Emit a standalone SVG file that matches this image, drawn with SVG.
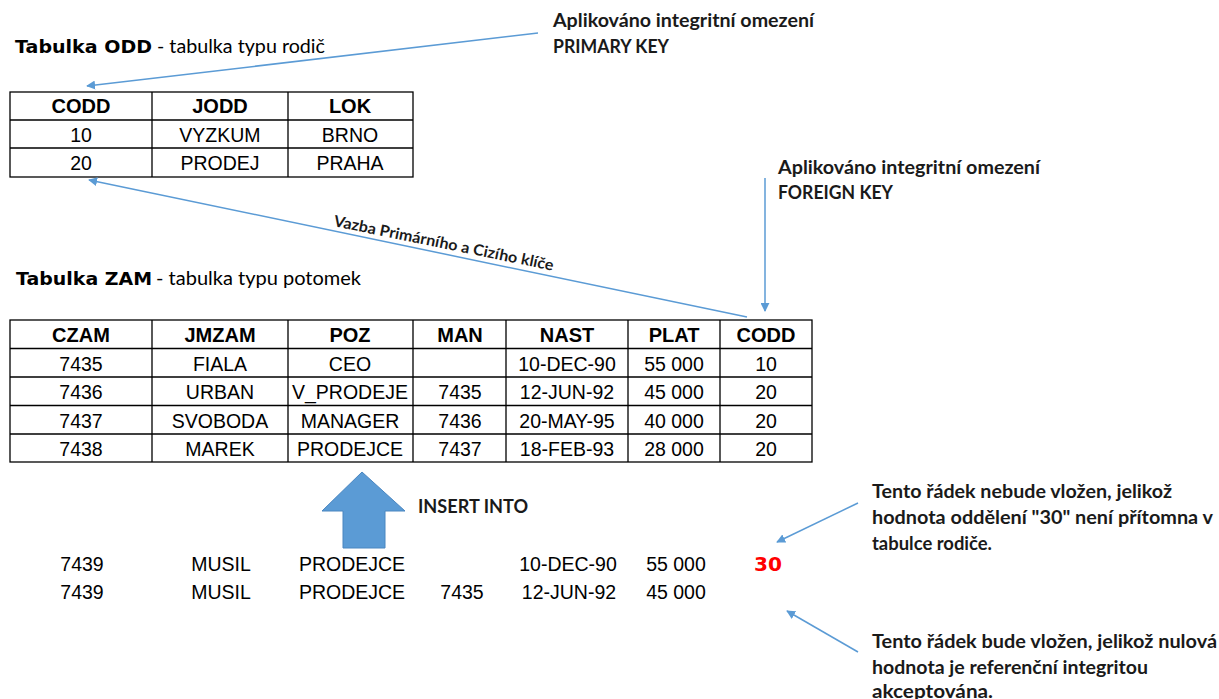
<svg xmlns="http://www.w3.org/2000/svg" width="1219" height="699" viewBox="0 0 1219 699">
  <style>
    .grid { fill: none; stroke: #000; stroke-width: 1.3; }
    .th { font-family: "Liberation Sans", Arial, sans-serif; font-size: 20px; font-weight: bold; text-anchor: middle; fill: #000; }
    .td { font-family: "Liberation Sans", Arial, sans-serif; font-size: 19.5px; text-anchor: middle; fill: #000; }
    .ttl { font-family: "DejaVu Sans", Verdana, sans-serif; font-size: 17.5px; font-weight: bold; fill: #000; }
    .sub { font-family: Lato, "Open Sans", sans-serif; font-size: 19.5px; fill: #000; }
    .note { font-family: Lato, "Open Sans", sans-serif; font-size: 18px; font-weight: bold; fill: #1a1a1a; }
    .lbl { font-family: Lato, "Open Sans", sans-serif; font-size: 15.5px; font-weight: bold; fill: #1a1a1a; }
    .red { font-family: "DejaVu Sans", Verdana, sans-serif; font-size: 19px; font-weight: bold; fill: #ff0000; text-anchor: middle; }
    .conn { fill: none; stroke: #5b9bd5; stroke-width: 1.5; }
  </style>
  <defs>
    <marker id="head" viewBox="0 0 10 10" refX="9" refY="5" markerWidth="9" markerHeight="9" markerUnits="userSpaceOnUse" orient="auto">
      <path d="M0,0 L10,5 L0,10 z" fill="#5b9bd5"/>
    </marker>
  </defs>
  <rect width="1219" height="699" fill="#fff"/>

  <!-- parent table ODD -->
  <g id="odd">
    <text class="ttl" x="15" y="53" textLength="137" lengthAdjust="spacingAndGlyphs">Tabulka ODD</text>
    <text class="sub" x="157" y="53" textLength="168" lengthAdjust="spacingAndGlyphs">- tabulka typu rodič</text>
    <rect class="grid" x="10" y="92" width="403" height="85"/>
    <path class="grid" d="M10,120 H413 M10,148 H413 M152,92 V177 M288,92 V177"/>
    <text class="th" x="81" y="113">CODD</text>
    <text class="th" x="220" y="113">JODD</text>
    <text class="th" x="350" y="113">LOK</text>
    <text class="td" x="81" y="142">10</text>
    <text class="td" x="220" y="142">VYZKUM</text>
    <text class="td" x="350" y="142">BRNO</text>
    <text class="td" x="81" y="170">20</text>
    <text class="td" x="220" y="170">PRODEJ</text>
    <text class="td" x="350" y="170">PRAHA</text>
  </g>

  <!-- child table ZAM -->
  <g id="zam">
    <text class="ttl" x="16" y="285" textLength="136" lengthAdjust="spacingAndGlyphs">Tabulka ZAM</text>
    <text class="sub" x="156" y="285" textLength="205" lengthAdjust="spacingAndGlyphs">- tabulka typu potomek</text>
    <rect class="grid" x="10" y="320" width="802" height="142"/>
    <path class="grid" d="M10,348.5 H812 M10,377 H812 M10,405.5 H812 M10,434 H812 M152,320 V462 M288,320 V462 M413,320 V462 M506,320 V462 M628,320 V462 M720,320 V462"/>
    <text class="th" x="81" y="342">CZAM</text>
    <text class="th" x="220" y="342">JMZAM</text>
    <text class="th" x="350" y="342">POZ</text>
    <text class="th" x="460" y="342">MAN</text>
    <text class="th" x="567" y="342">NAST</text>
    <text class="th" x="674" y="342">PLAT</text>
    <text class="th" x="766" y="342">CODD</text>

    <text class="td" x="81" y="371">7435</text>
    <text class="td" x="220" y="371">FIALA</text>
    <text class="td" x="350" y="371">CEO</text>
    <text class="td" x="567" y="371">10-DEC-90</text>
    <text class="td" x="674" y="371">55 000</text>
    <text class="td" x="766" y="371">10</text>

    <text class="td" x="81" y="399">7436</text>
    <text class="td" x="220" y="399">URBAN</text>
    <text class="td" x="350" y="399">V_PRODEJE</text>
    <text class="td" x="460" y="399">7435</text>
    <text class="td" x="567" y="399">12-JUN-92</text>
    <text class="td" x="674" y="399">45 000</text>
    <text class="td" x="766" y="399">20</text>

    <text class="td" x="81" y="428">7437</text>
    <text class="td" x="220" y="428">SVOBODA</text>
    <text class="td" x="350" y="428">MANAGER</text>
    <text class="td" x="460" y="428">7436</text>
    <text class="td" x="567" y="428">20-MAY-95</text>
    <text class="td" x="674" y="428">40 000</text>
    <text class="td" x="766" y="428">20</text>

    <text class="td" x="81" y="456">7438</text>
    <text class="td" x="220" y="456">MAREK</text>
    <text class="td" x="350" y="456">PRODEJCE</text>
    <text class="td" x="460" y="456">7437</text>
    <text class="td" x="567" y="456">18-FEB-93</text>
    <text class="td" x="674" y="456">28 000</text>
    <text class="td" x="766" y="456">20</text>
  </g>

  <!-- rows to be inserted -->
  <g id="insert">
    <path d="M362,472 L405,511 L385,511 L385,548 L343,548 L343,511 L322,511 Z" fill="#5b9bd5" stroke="#4a86c0" stroke-width="1"/>
    <text class="note" x="418" y="513" textLength="110" lengthAdjust="spacingAndGlyphs">INSERT INTO</text>
    <text class="td" x="82" y="571">7439</text>
    <text class="td" x="221" y="571">MUSIL</text>
    <text class="td" x="352" y="571">PRODEJCE</text>
    <text class="td" x="568" y="571">10-DEC-90</text>
    <text class="td" x="676" y="571">55 000</text>
    <text class="red" x="768" y="571" textLength="28" lengthAdjust="spacingAndGlyphs">30</text>
    <text class="td" x="82" y="599">7439</text>
    <text class="td" x="221" y="599">MUSIL</text>
    <text class="td" x="352" y="599">PRODEJCE</text>
    <text class="td" x="462" y="599">7435</text>
    <text class="td" x="569" y="599">12-JUN-92</text>
    <text class="td" x="676" y="599">45 000</text>
  </g>

  <!-- annotations -->
  <g id="note-pk">
    <text class="note" x="553" y="27" textLength="261" lengthAdjust="spacingAndGlyphs">Aplikováno integritní omezení</text>
    <text class="note" x="553" y="53" textLength="116" lengthAdjust="spacingAndGlyphs">PRIMARY KEY</text>
  </g>
  <g id="note-fk">
    <text class="note" x="778" y="174" textLength="262" lengthAdjust="spacingAndGlyphs">Aplikováno integritní omezení</text>
    <text class="note" x="778" y="199" textLength="115" lengthAdjust="spacingAndGlyphs">FOREIGN KEY</text>
  </g>
  <g id="note-reject">
    <text class="note" x="872" y="498" textLength="300" lengthAdjust="spacingAndGlyphs">Tento řádek nebude vložen, jelikož</text>
    <text class="note" x="872" y="524" textLength="341" lengthAdjust="spacingAndGlyphs">hodnota oddělení "30" není přítomna v</text>
    <text class="note" x="872" y="550" textLength="120" lengthAdjust="spacingAndGlyphs">tabulce rodiče.</text>
  </g>
  <g id="note-accept">
    <text class="note" x="872" y="648" textLength="345" lengthAdjust="spacingAndGlyphs">Tento řádek bude vložen, jelikož nulová</text>
    <text class="note" x="872" y="674" textLength="276" lengthAdjust="spacingAndGlyphs">hodnota je referenční integritou</text>
    <text class="note" x="872" y="698" textLength="121" lengthAdjust="spacingAndGlyphs">akceptována.</text>
  </g>

  <!-- connectors -->
  <g id="connectors">
    <line class="conn" x1="538" y1="33" x2="87" y2="86" marker-end="url(#head)"/>
    <line class="conn" x1="765" y1="178" x2="765" y2="311" marker-end="url(#head)"/>
    <line class="conn" x1="747" y1="317" x2="89" y2="180" marker-end="url(#head)"/>
    <line class="conn" x1="858" y1="503" x2="777" y2="542" marker-end="url(#head)"/>
    <line class="conn" x1="858" y1="652" x2="787" y2="611" marker-end="url(#head)"/>
    <text class="lbl" transform="translate(333,226) rotate(11.5)" textLength="224" lengthAdjust="spacingAndGlyphs">Vazba Primárního a Cizího klíče</text>
  </g>
</svg>
